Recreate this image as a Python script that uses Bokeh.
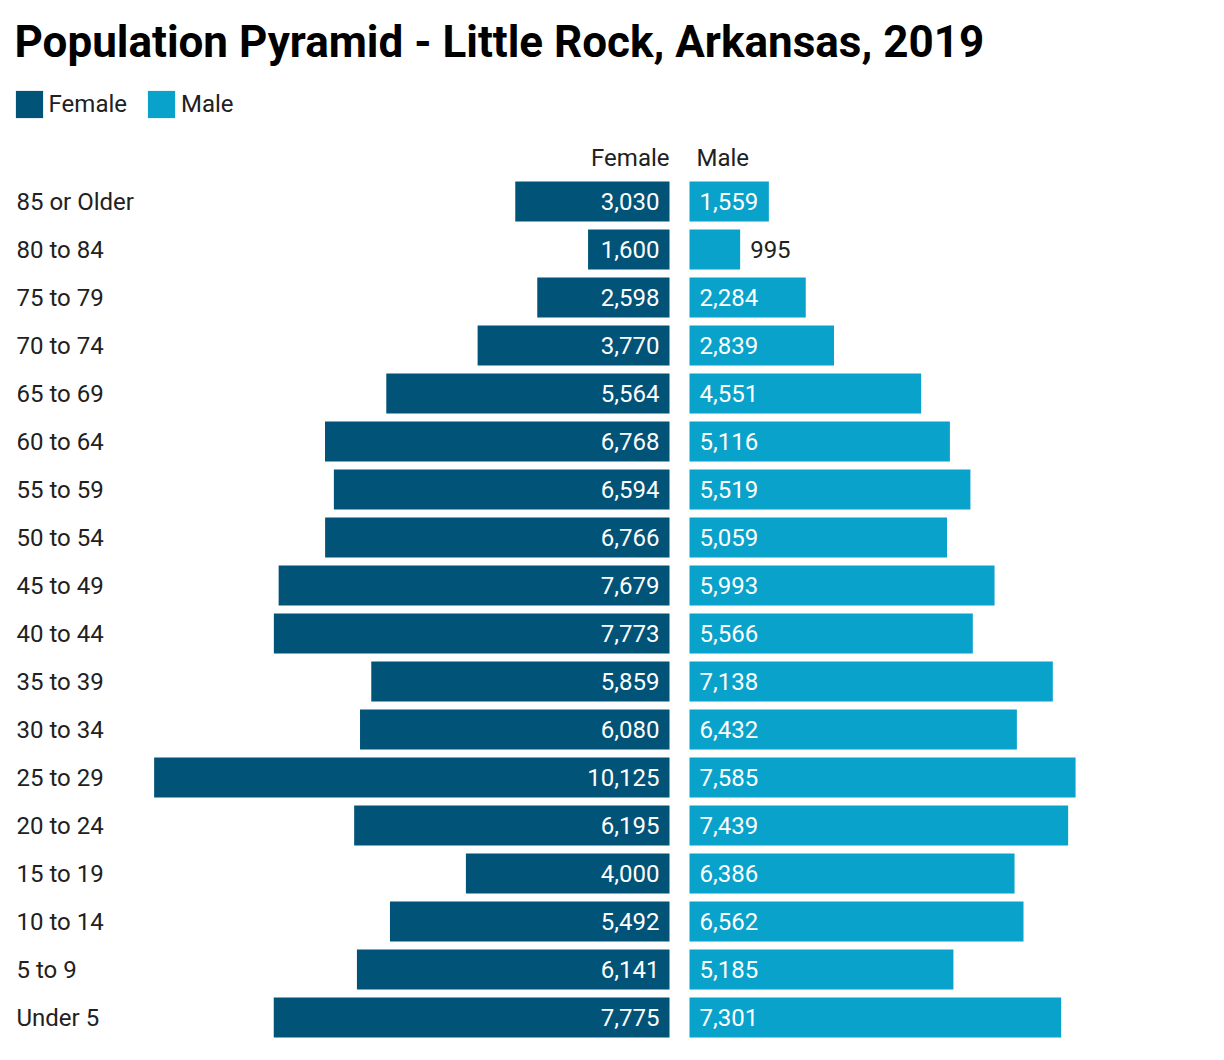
from bokeh.plotting import figure
from bokeh.models import Range1d, Label, Legend, LegendItem, ColumnDataSource
from bokeh.core.properties import value
from bokeh.embed import file_html
from bokeh.resources import INLINE

categories = ["85 or Older", "80 to 84", "75 to 79", "70 to 74", "65 to 69", "60 to 64",
              "55 to 59", "50 to 54", "45 to 49", "40 to 44", "35 to 39", "30 to 34",
              "25 to 29", "20 to 24", "15 to 19", "10 to 14", "5 to 9", "Under 5"]
female = [3030, 1600, 2598, 3770, 5564, 6768, 6594, 6766, 7679, 7773, 5859, 6080,
          10125, 6195, 4000, 5492, 6141, 7775]
male = [1559, 995, 2284, 2839, 4551, 5116, 5519, 5059, 5993, 5566, 7138, 6432,
        7585, 7439, 6386, 6562, 5185, 7301]

TITLE = "Population Pyramid - Little Rock, Arkansas, 2019"
FEMALE_COLOR = "#015378"
MALE_COLOR = "#09A2CB"
TEXT_COLOR = "#212121"
FONT = "Roboto"

W, H = 1224, 1060
S = 0.0509          # pixels per person
F0, M0 = 669, 689   # pixel positions of the zero lines
ROW = 48            # pixels per row
TOP = 201           # center of the first row

p = figure(width=W, height=H, output_backend="svg", toolbar_location=None,
           x_range=Range1d(0, W), y_range=Range1d((H - TOP) / ROW, -TOP / ROW),
           min_border=0, outline_line_color=None, x_axis_location=None,
           y_axis_location=None, title=None)
p.grid.visible = False
p.extra_x_ranges = {
    "female": Range1d(F0 / S, -(W - F0) / S),
    "male": Range1d(-M0 / S, (W - M0) / S),
}

idx = list(range(len(categories)))
fmt = lambda v: f"{v:,}"


def text_px(s):
    return sum(6 if c == "," else 13.5 for c in s)


male_inside = [m * S >= text_px(fmt(m)) + 12 for m in male]

src = ColumnDataSource(dict(
    y=idx, cat=categories, female=female, male=male,
    flab=[fmt(v) for v in female], mlab=[fmt(v) for v in male],
    mx=[0 if ins else m for m, ins in zip(male, male_inside)],
    mcol=["white" if ins else TEXT_COLOR for ins in male_inside],
    zero=[0] * len(idx), lx=[16] * len(idx),
))

rf = p.hbar(y="y", left="zero", right="female", height=0.83, source=src,
            x_range_name="female", fill_color=FEMALE_COLOR, line_color=None)
rm = p.hbar(y="y", left="zero", right="male", height=0.83, source=src,
            x_range_name="male", fill_color=MALE_COLOR, line_color=None)

common = dict(text_font=value(FONT), text_font_size="24px", text_baseline="middle")
p.text(x="zero", y="y", text="flab", source=src, x_range_name="female",
       x_offset=-10, text_align="right", text_color="white", **common)
p.text(x="mx", y="y", text="mlab", source=src, x_range_name="male",
       x_offset=10, text_align="left", text_color="mcol", **common)
p.text(x="lx", y="y", text="cat", source=src, text_align="left",
       text_color=TEXT_COLOR, **common)

# column headers
p.add_layout(Label(x=0, x_range_name="female", y=H - 157, y_units="screen",
                   text="Female", text_align="right", text_baseline="alphabetic",
                   text_font=FONT, text_font_size="24px", text_color=TEXT_COLOR))
p.add_layout(Label(x=0, x_range_name="male", x_offset=7, y=H - 157, y_units="screen",
                   text="Male", text_align="left", text_baseline="alphabetic",
                   text_font=FONT, text_font_size="24px", text_color=TEXT_COLOR))

# title
p.add_layout(Label(x=14, y=H - 41, x_units="screen", y_units="screen", text=TITLE,
                   text_font=FONT, text_font_size="44px", text_font_style="bold",
                   text_baseline="alphabetic", text_color="#000000"))

legend = Legend(items=[LegendItem(label="Female", renderers=[rf]),
                       LegendItem(label="Male", renderers=[rm])],
                orientation="horizontal", location=(11.6, H - 120.6),
                glyph_width=34, glyph_height=34, label_height=34,
                label_standoff=3, spacing=17, padding=0, margin=0,
                border_line_alpha=0, background_fill_alpha=0,
                label_text_font=FONT, label_text_font_size="24px",
                label_text_color=TEXT_COLOR)
p.add_layout(legend)

open("out.html", "w").write(file_html(p, INLINE))
